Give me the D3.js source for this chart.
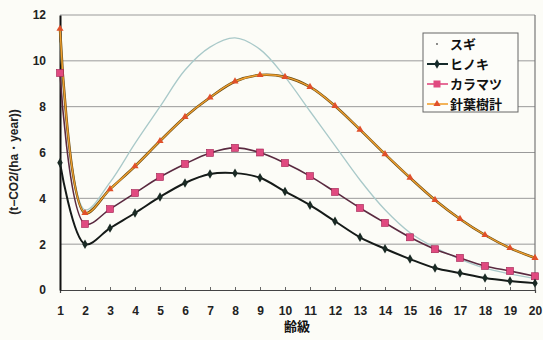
<!DOCTYPE html>
<html><head><meta charset="utf-8">
<script src="https://cdn.jsdelivr.net/npm/d3@7"></script>
<style>body{margin:0;background:#fcfcf7;}svg{display:block;}</style>
</head><body>
<svg id="c" width="543" height="340"></svg>
<script>
const ageClasses = [1,2,3,4,5,6,7,8,9,10,11,12,13,14,15,16,17,18,19,20];
const sugi      = [10.8,3.5,4.7,6.4,8.0,9.6,10.6,11.0,10.5,9.3,7.8,6.3,4.8,3.5,2.5,1.85,1.35,0.95,0.7,0.5];
const hinoki    = [5.55,2.0,2.7,3.36,4.06,4.67,5.06,5.1,4.9,4.3,3.7,3.0,2.3,1.8,1.35,0.96,0.74,0.52,0.39,0.3];
const karamatsu = [9.47,2.88,3.53,4.23,4.93,5.5,5.98,6.2,6.0,5.54,4.97,4.28,3.58,2.93,2.3,1.78,1.4,1.05,0.83,0.6];
const shinyoju  = [11.4,3.36,4.4,5.4,6.5,7.55,8.4,9.1,9.38,9.3,8.86,8.03,7.0,5.93,4.9,3.93,3.1,2.4,1.83,1.4];
const seriesNames = ["スギ","ヒノキ","カラマツ","針葉樹計"];
const yTicks = [0,2,4,6,8,10,12];

const svg = d3.select("#c");
const mLeft = 60, mRight = 535, mTop = 15, mBottom = 290;
const x = d3.scalePoint().domain(ageClasses).range([mLeft, mRight]);
const y = d3.scaleLinear().domain([0,12]).range([mBottom, mTop]);

// gridlines
svg.append("g").selectAll("line").data(yTicks.filter(d=>d>0)).join("line")
  .attr("x1", mLeft).attr("x2", mRight)
  .attr("y1", d=>y(d)).attr("y2", d=>y(d))
  .attr("stroke", "#9a9a9a").attr("stroke-width", 1);
// right border
svg.append("line").attr("x1", mRight).attr("x2", mRight).attr("y1", mTop).attr("y2", mBottom)
  .attr("stroke", "#777").attr("stroke-width", 1.2);

// axes
const font = "'Liberation Sans', Arial, sans-serif";
const xAxis = svg.append("g").attr("transform", `translate(0,${mBottom})`)
  .call(d3.axisBottom(x).tickSize(3).tickPadding(13));
xAxis.select(".domain").attr("stroke", "#444").attr("stroke-width", 1.2);
xAxis.selectAll("line").attr("stroke", "#666").attr("transform","translate(0,-3)");
xAxis.selectAll("text").attr("font-family", font).attr("font-size", 12).attr("font-weight", "bold").attr("fill", "#222");

const yAxis = svg.append("g").attr("transform", `translate(${mLeft},0)`)
  .call(d3.axisLeft(y).tickValues(yTicks).tickSize(0).tickPadding(14));
yAxis.select(".domain").attr("stroke", "#111").attr("stroke-width", 2);
yAxis.selectAll("text").attr("font-family", font).attr("font-size", 12).attr("font-weight", "bold").attr("fill", "#222");

// lines
const line = d3.line().x((d,i)=>x(ageClasses[i])).y(d=>y(d)).curve(d3.curveCatmullRom.alpha(0.5));

svg.append("path").datum(sugi).attr("d", line).attr("fill","none").attr("stroke","#a9c9c9").attr("stroke-width",1.3);

svg.append("path").datum(shinyoju).attr("d", line).attr("fill","none").attr("stroke","#6a4a10").attr("stroke-width",2.6);
svg.append("path").datum(shinyoju).attr("d", line).attr("fill","none").attr("stroke","#f0a030").attr("stroke-width",1.4);
svg.append("g").selectAll("path").data(shinyoju).join("path")
  .attr("d", d3.symbol(d3.symbolTriangle, 22))
  .attr("transform",(d,i)=>`translate(${x(ageClasses[i])},${y(d)})`)
  .attr("fill","#e0502a");

svg.append("path").datum(karamatsu).attr("d", line).attr("fill","none").attr("stroke","#5a2a40").attr("stroke-width",1.6);
svg.append("g").selectAll("rect").data(karamatsu).join("rect")
  .attr("x",(d,i)=>x(ageClasses[i])-3.5).attr("y",d=>y(d)-3.5).attr("width",7).attr("height",7)
  .attr("fill","#e04a80").attr("stroke","#a02050").attr("stroke-width",0.6);

svg.append("path").datum(hinoki).attr("d", line).attr("fill","none").attr("stroke","#151a18").attr("stroke-width",2);
svg.append("g").selectAll("path").data(hinoki).join("path")
  .attr("d", d3.symbol(d3.symbolDiamond, 26))
  .attr("transform",(d,i)=>`translate(${x(ageClasses[i])},${y(d)})`)
  .attr("fill","#1a2a24");

// legend
const lg = svg.append("g");
lg.append("rect").attr("x",423).attr("y",33).attr("width",95).attr("height",79)
  .attr("fill","#fdfdf9").attr("stroke","#666").attr("stroke-width",1);
const ly = [44,64,84,104];
seriesNames.forEach((n,i)=>{
  lg.append("text").attr("x",450).attr("y",ly[i]+5).text(n)
    .attr("font-family","'Noto Sans CJK JP', sans-serif").attr("font-size",13).attr("font-weight","bold").attr("fill","#111");
});
lg.append("circle").attr("cx",437).attr("cy",ly[0]).attr("r",0.9).attr("fill","#555");
lg.append("line").attr("x1",427).attr("x2",448).attr("y1",ly[1]).attr("y2",ly[1]).attr("stroke","#152a2a").attr("stroke-width",2);
lg.append("path").attr("d",d3.symbol(d3.symbolDiamond,26)).attr("transform",`translate(437,${ly[1]})`).attr("fill","#152a2a");
lg.append("line").attr("x1",427).attr("x2",448).attr("y1",ly[2]).attr("y2",ly[2]).attr("stroke","#e04a80").attr("stroke-width",1.6);
lg.append("rect").attr("x",433.5).attr("y",ly[2]-3.5).attr("width",7).attr("height",7).attr("fill","#e04a80");
lg.append("line").attr("x1",427).attr("x2",448).attr("y1",ly[3]).attr("y2",ly[3]).attr("stroke","#f0a030").attr("stroke-width",1.6);
lg.append("path").attr("d",d3.symbol(d3.symbolTriangle,22)).attr("transform",`translate(437,${ly[3]})`).attr("fill","#e0502a");

// axis titles
svg.append("text").attr("transform","translate(18,162) rotate(-90)").attr("text-anchor","middle")
  .text("(t−CO2/(ha・year))").attr("font-family",font).attr("font-size",12).attr("font-weight","bold").attr("fill","#222");
svg.append("text").attr("x",297).attr("y",331).attr("text-anchor","middle").text("齢級")
  .attr("font-family","'Noto Sans CJK JP', sans-serif").attr("font-size",13).attr("font-weight","bold").attr("fill","#111");
</script>
</body></html>
